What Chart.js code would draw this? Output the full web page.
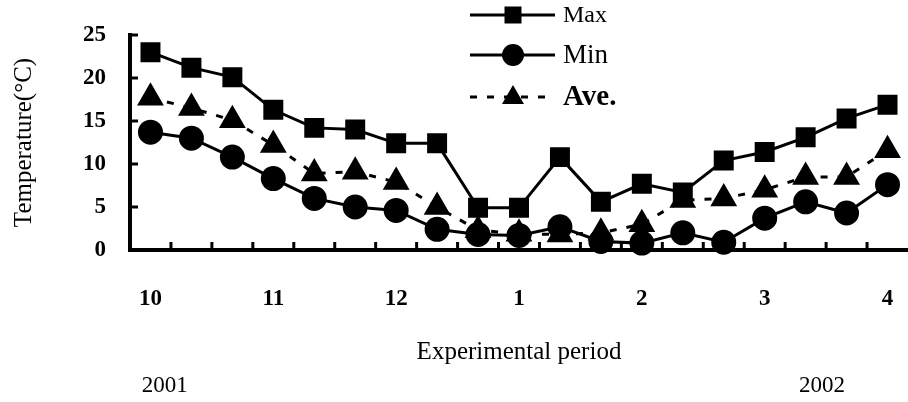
<!DOCTYPE html>
<html>
<head>
<meta charset="utf-8">
<script src="https://cdn.jsdelivr.net/npm/chart.js@4.4.0/dist/chart.umd.min.js"></script>
<style>
  html, body { margin: 0; padding: 0; background: #fff; }
</style>
</head>
<body>
<canvas id="tempchart" width="908" height="402"></canvas>
<script>
// months (one point every ~10 days, Oct 2001 - Apr 2002)
var months = ['10','','','11','','','12','','','1','','','2','','','3','','','4'];
var maxTemp = [23.0, 21.2, 20.1, 16.3, 14.2, 14.0, 12.4, 12.4, 4.9, 4.9, 10.8, 5.6, 7.7, 6.7, 10.4, 11.4, 13.1, 15.3, 16.9];
var minTemp = [13.7, 13.0, 10.8, 8.3, 6.0, 5.0, 4.6, 2.4, 1.8, 1.7, 2.7, 1.0, 0.8, 2.0, 0.9, 3.7, 5.6, 4.3, 7.6];
var aveTemp = [17.7, 16.5, 15.1, 12.2, 8.9, 9.1, 7.9, 5.0, 2.3, 1.9, 1.8, 2.0, 3.0, 5.8, 6.0, 7.0, 8.5, 8.5, 11.6];
var years = ['2001', '2002'];
var yearAt = [0.35, 16.4];
var seriesNames = ['Max', 'Min', 'Ave.'];

var serif = "'Liberation Serif', 'DejaVu Serif', serif";

// little tick marks pointing into the plot, year labels and the legend
var extras = {
  id: 'extras',
  afterDraw: function(chart) {
    var ctx = chart.ctx;
    var xs = chart.scales.x, ys = chart.scales.y;
    var area = chart.chartArea;
    ctx.save();
    ctx.strokeStyle = '#000';
    ctx.fillStyle = '#000';
    ctx.lineWidth = 3;
    // x ticks at category boundaries
    for (var i = 1; i < months.length; i++) {
      var bx = (xs.getPixelForValue(i - 1) + xs.getPixelForValue(i)) / 2;
      ctx.beginPath();
      ctx.moveTo(bx, area.bottom);
      ctx.lineTo(bx, area.bottom - 8);
      ctx.stroke();
    }
    // y ticks
    ys.ticks.forEach(function(t) {
      if (t.value === 0) return;
      var py = ys.getPixelForValue(t.value);
      ctx.beginPath();
      ctx.moveTo(area.left, py);
      ctx.lineTo(area.left + 8, py);
      ctx.stroke();
    });

    // years
    ctx.font = '23px ' + serif;
    ctx.textAlign = 'center';
    ctx.textBaseline = 'middle';
    for (var k = 0; k < years.length; k++) {
      ctx.fillText(years[k], xs.getPixelForValue(yearAt[k]), 386);
    }

    // legend
    var lx0 = 470, lx1 = 555, mx = 513, tx = 563;
    var rows = [
      {y: 15, style: 'rect', dash: [], font: '24px ' + serif},
      {y: 55, style: 'circle', dash: [], font: '27px ' + serif},
      {y: 97, style: 'triangle', dash: [7, 10], font: 'bold 29px ' + serif}
    ];
    rows.forEach(function(r, idx) {
      ctx.lineWidth = 3;
      ctx.setLineDash(r.dash);
      ctx.beginPath();
      ctx.moveTo(lx0, r.y);
      ctx.lineTo(lx1, r.y);
      ctx.stroke();
      ctx.setLineDash([]);
      ctx.beginPath();
      if (r.style === 'rect') {
        ctx.rect(mx - 8.5, r.y - 8.5, 17, 17);
      } else if (r.style === 'circle') {
        ctx.arc(mx, r.y, 11, 0, Math.PI * 2);
      } else {
        ctx.moveTo(mx, r.y - 12);
        ctx.lineTo(mx + 11, r.y + 7);
        ctx.lineTo(mx - 11, r.y + 7);
        ctx.closePath();
      }
      ctx.fill();
      ctx.font = r.font;
      ctx.textAlign = 'left';
      ctx.fillText(seriesNames[idx], tx, r.y + 1);
    });
    ctx.restore();
  }
};

var ctx = document.getElementById('tempchart').getContext('2d');
var tempchart = new Chart(ctx, {
  type: 'line',
  data: {
    labels: months,
    datasets: [
      {
        label: 'Max',
        data: maxTemp,
        borderColor: '#000',
        backgroundColor: '#000',
        borderWidth: 3,
        pointStyle: 'rect',
        pointRadius: 12,
        clip: false
      },
      {
        label: 'Min',
        data: minTemp,
        borderColor: '#000',
        backgroundColor: '#000',
        borderWidth: 3,
        pointStyle: 'circle',
        pointRadius: 11,
        clip: false
      },
      {
        label: 'Ave.',
        data: aveTemp,
        borderColor: '#000',
        backgroundColor: '#000',
        borderWidth: 3,
        borderDash: [7, 10],
        pointStyle: 'triangle',
        pointRadius: 12.5,
        clip: false
      }
    ]
  },
  options: {
    responsive: false,
    animation: false,
    layout: { autoPadding: false, padding: { top: 35, left: 0, right: 0, bottom: 0 } },
    plugins: {
      legend: { display: false },
      tooltip: { enabled: false }
    },
    scales: {
      x: {
        type: 'category',
        offset: true,
        grid: { display: false },
        border: { display: true, color: '#000', width: 4 },
        ticks: {
          autoSkip: false,
          maxRotation: 0,
          padding: 27,
          color: '#000',
          font: { family: serif, size: 23, weight: 'bold' }
        },
        title: {
          display: true,
          text: 'Experimental period',
          color: '#000',
          font: { family: serif, size: 25 },
          padding: { top: 0, bottom: 35 }
        },
        afterFit: function(scale) {
          scale.height = 152;
          scale.paddingLeft = 0;
          scale.paddingRight = 0;
        }
      },
      y: {
        min: 0,
        max: 25,
        grid: { display: false },
        border: { display: true, color: '#000', width: 4 },
        ticks: {
          stepSize: 5,
          padding: 16,
          color: '#000',
          font: { family: serif, size: 23, weight: 'bold' }
        },
        title: {
          display: true,
          text: 'Temperature(°C)',
          color: '#000',
          font: { family: serif, size: 25 },
          padding: { top: 9, bottom: 0 }
        },
        afterFit: function(scale) { scale.width = 130; }
      }
    }
  },
  plugins: [extras]
});
</script>
</body>
</html>
